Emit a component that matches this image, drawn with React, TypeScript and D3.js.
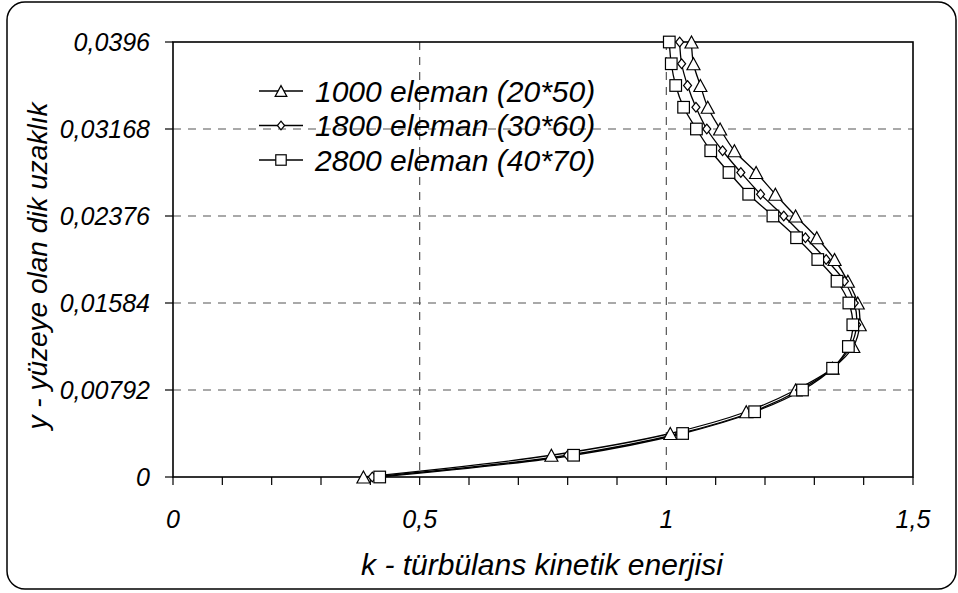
import React from 'react';
import * as d3 from 'd3';

// distance from surface (y) - same for every mesh
const yLevels = [0, 0.00198, 0.00396, 0.00594, 0.00792, 0.0099, 0.01188, 0.01386, 0.01584, 0.01782,
  0.0198, 0.02178, 0.02376, 0.02574, 0.02772, 0.0297, 0.03168, 0.03366, 0.03564, 0.03762, 0.0396];

// k - turbulent kinetic energy
const k1000 = [0.386, 0.767, 1.008, 1.162, 1.262, 1.337, 1.379, 1.392, 1.388, 1.368, 1.341,
  1.305, 1.262, 1.221, 1.182, 1.138, 1.109, 1.084, 1.069, 1.055, 1.051];
const k1800 = [0.404, 0.8, 1.027, 1.175, 1.27, 1.337, 1.373, 1.386, 1.381, 1.361, 1.324,
  1.282, 1.238, 1.191, 1.151, 1.114, 1.082, 1.06, 1.043, 1.031, 1.027];
const k2800 = [0.419, 0.812, 1.033, 1.179, 1.276, 1.337, 1.369, 1.378, 1.37, 1.346, 1.307,
  1.264, 1.216, 1.167, 1.127, 1.09, 1.061, 1.035, 1.019, 1.01, 1.006];

const seriesNames = ['1000 eleman (20*50)', '1800 eleman (30*60)', '2800 eleman (40*70)'];
const seriesMarkers = ['triangle', 'diamond', 'square'];

const xTicks = [0, 0.5, 1, 1.5];
const xTickLabels = ['0', '0,5', '1', '1,5'];
const xMinorTicks = [0.1, 0.2, 0.3, 0.4, 0.6, 0.7, 0.8, 0.9, 1.1, 1.2, 1.3, 1.4];
const yTicks = [0, 0.00792, 0.01584, 0.02376, 0.03168, 0.0396];
const yTickLabels = ['0', '0,00792', '0,01584', '0,02376', '0,03168', '0,0396'];

const FONT = '"Liberation Sans", Arial, sans-serif';

const Marker = ({ type, x, y, scale = 1 }) => {
    const s = scale;
    if (type === 'triangle') {
        const w = 6.5 * s, h = 6 * s;
        return <path d={`M${x},${y - h}L${x + w},${y + h}L${x - w},${y + h}Z`}
            fill="white" stroke="black" strokeWidth={1.2} />;
    }
    if (type === 'diamond') {
        const w = 4 * s, h = 4.8 * s;
        return <path d={`M${x},${y - h}L${x + w},${y}L${x},${y + h}L${x - w},${y}Z`}
            fill="white" stroke="black" strokeWidth={1.2} />;
    }
    const r = 5.8 * s;
    return <rect x={x - r} y={y - r} width={2 * r} height={2 * r}
        fill="white" stroke="black" strokeWidth={1.2} />;
};

export default function App() {
    const left = 173, right = 913, top = 42, bottom = 477;
    const x = d3.scaleLinear().domain([0, 1.5]).range([left, right]);
    const y = d3.scaleLinear().domain([0, 0.0396]).range([bottom, top]);

    const allSeries = [k1000, k1800, k2800];
    const line = d3.line<number>()
        .x(d => x(d))
        .y((d, i) => y(yLevels[i]))
        .curve(d3.curveCatmullRom.alpha(0.5));

    return (
        <svg width={958} height={593}
            style={{ position: 'absolute', left: 0, top: 0, background: 'white' }}>
            <rect x={7} y={2} width={949} height={587} rx={18} ry={18}
                fill="white" stroke="black" strokeWidth={1.5} />

            {/* grid */}
            {yTicks.slice(1, -1).map(t => (
                <line key={'gy' + t} x1={left} x2={right} y1={y(t)} y2={y(t)}
                    stroke="#555" strokeWidth={1.2} strokeDasharray="8,7" />
            ))}
            {xTicks.slice(1, -1).map(t => (
                <line key={'gx' + t} x1={x(t)} x2={x(t)} y1={top} y2={bottom}
                    stroke="#555" strokeWidth={1.2} strokeDasharray="8,7" />
            ))}

            <rect x={left} y={top} width={right - left} height={bottom - top}
                fill="none" stroke="black" strokeWidth={1.6} />

            {/* ticks */}
            {xTicks.concat(xMinorTicks).map(t => (
                <line key={'tx' + t} x1={x(t)} x2={x(t)} y1={bottom} y2={bottom + 8}
                    stroke="black" strokeWidth={1.2} />
            ))}
            {yTicks.map(t => (
                <line key={'ty' + t} x1={left - 8} x2={left} y1={y(t)} y2={y(t)}
                    stroke="black" strokeWidth={1.2} />
            ))}

            {/* tick labels */}
            {xTicks.map((t, i) => (
                <text key={'lx' + t} x={x(t)} y={528} textAnchor="middle"
                    fontFamily={FONT} fontStyle="italic" fontSize={25}>{xTickLabels[i]}</text>
            ))}
            {yTicks.map((t, i) => (
                <text key={'ly' + t} x={150} y={y(t) + 9} textAnchor="end"
                    fontFamily={FONT} fontStyle="italic" fontSize={25}>{yTickLabels[i]}</text>
            ))}

            {/* series */}
            {allSeries.map((s, si) => (
                <path key={'s' + si} d={line(s)} fill="none" stroke="black" strokeWidth={1.3} />
            ))}
            {allSeries.map((s, si) => s.map((v, i) => (
                <Marker key={'m' + si + '-' + i} type={seriesMarkers[si]} x={x(v)} y={y(yLevels[i])} />
            )))}

            {/* legend */}
            {seriesNames.map((name, i) => {
                const ly = 91 + i * 34.5;
                return (
                    <g key={'lg' + i}>
                        <line x1={259} x2={303} y1={ly} y2={ly} stroke="black" strokeWidth={1.3} />
                        <Marker type={seriesMarkers[i]} x={281} y={ly} scale={0.9} />
                        <text x={315} y={ly + 10.5} fontFamily={FONT} fontStyle="italic"
                            fontSize={30}>{name}</text>
                    </g>
                );
            })}

            {/* axis titles */}
            <text x={542} y={575} textAnchor="middle" fontFamily={FONT} fontStyle="italic"
                fontSize={30}>k - türbülans kinetik enerjisi</text>
            <text transform="translate(47,266) rotate(-90)" textAnchor="middle" fontFamily={FONT}
                fontStyle="italic" fontSize={28}>y - yüzeye olan dik uzaklık</text>
        </svg>
    );
}
